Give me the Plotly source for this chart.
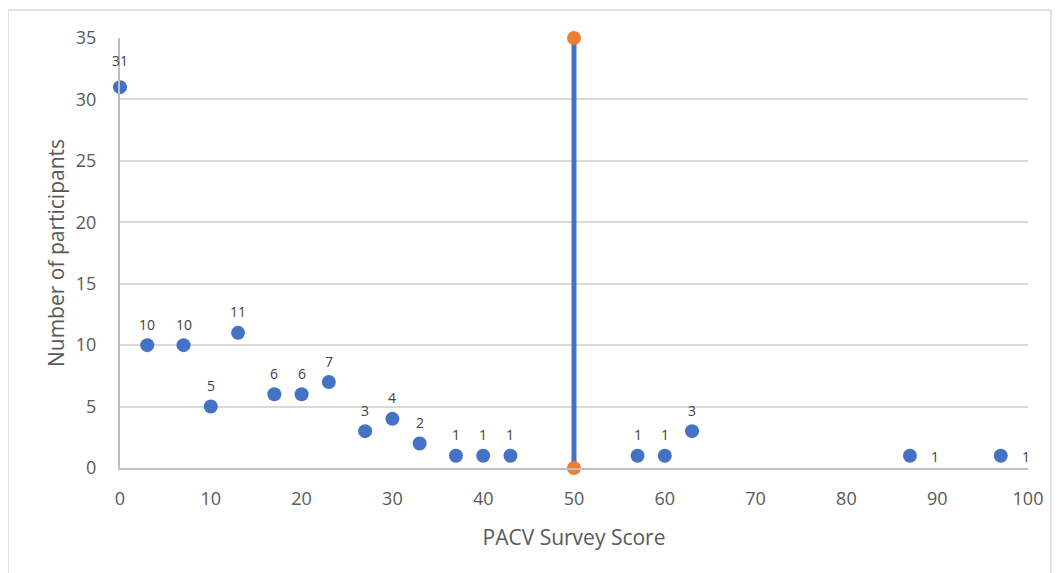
import plotly.graph_objects as go

scores = [0, 3, 7, 10, 13, 17, 20, 23, 27, 30, 33, 37, 40, 43, 57, 60, 63, 87, 97]
counts = [31, 10, 10, 5, 11, 6, 6, 7, 3, 4, 2, 1, 1, 1, 1, 1, 3, 1, 1]
label_side = ["top"] * 17 + ["right", "right"]

cutoff_x = [50, 50]
cutoff_y = [0, 35]

x_ticks = list(range(0, 101, 10))
y_ticks = list(range(0, 36, 5))

FONT = "Open Sans"

fig = go.Figure()
fig.add_trace(go.Scatter(
    x=cutoff_x, y=cutoff_y, mode="lines+markers",
    line=dict(color="#4472C4", width=5),
    marker=dict(color="#ED7D31", size=14),
    hoverinfo="skip", cliponaxis=False,
))
fig.add_trace(go.Scatter(
    x=scores, y=counts, mode="markers",
    marker=dict(color="#4472C4", size=14),
    cliponaxis=False,
))

for i, (sx, cy, side) in enumerate(zip(scores, counts, label_side)):
    if side == "top":
        fig.add_annotation(x=sx, y=cy, text=str(cy), showarrow=False,
                           xshift=0, yshift=27 if i == 0 else 21,
                           font=dict(family=FONT, size=14, color="#404040"))
    else:
        fig.add_annotation(x=sx, y=cy, text=str(cy), showarrow=False,
                           xshift=25, yshift=-1,
                           font=dict(family=FONT, size=14, color="#404040"))

fig.update_layout(
    width=1060, height=573,
    margin=dict(l=112, r=40, t=30, b=113),
    plot_bgcolor="white", paper_bgcolor="white",
    showlegend=False,
    font=dict(family=FONT, color="#595959"),
    xaxis=dict(
        range=[0, 100], tickvals=x_ticks, showgrid=False, zeroline=False, automargin=False,
        showline=True, linecolor="#BFBFBF", linewidth=2,
        tickfont=dict(size=18, color="#595959"), ticks="", ticklabelstandoff=13,
        title=dict(text="PACV Survey Score", font=dict(size=21, color="#595959"), standoff=22),
    ),
    yaxis=dict(
        range=[0, 35], tickvals=y_ticks, showgrid=True, gridcolor="#D9D9D9", gridwidth=1.5,
        zeroline=False, showline=True, linecolor="#BFBFBF", linewidth=2, automargin=False,
        tickfont=dict(size=18, color="#595959"), ticks="", ticklabelstandoff=18,
        title=dict(text="Number of participants", font=dict(size=21, color="#595959"), standoff=5),
    ),
)

# chart border (frame)
fig.add_shape(type="line", xref="paper", yref="paper",
              x0=(8 - 120) / 908, x1=(8 - 120) / 908, y0=(468 - 10) / 430, y1=(468 - 600) / 430,
              line=dict(color="#D9D9D9", width=1.5))
fig.add_shape(type="line", xref="paper", yref="paper",
              x0=(1051 - 120) / 908, x1=(1051 - 120) / 908, y0=(468 - 10) / 430, y1=(468 - 600) / 430,
              line=dict(color="#D9D9D9", width=1.5))
fig.add_shape(type="line", xref="paper", yref="paper",
              x0=(8 - 120) / 908, x1=(1051 - 120) / 908, y0=(468 - 10) / 430, y1=(468 - 10) / 430,
              line=dict(color="#D9D9D9", width=1.5))

fig.write_html("out.html")
